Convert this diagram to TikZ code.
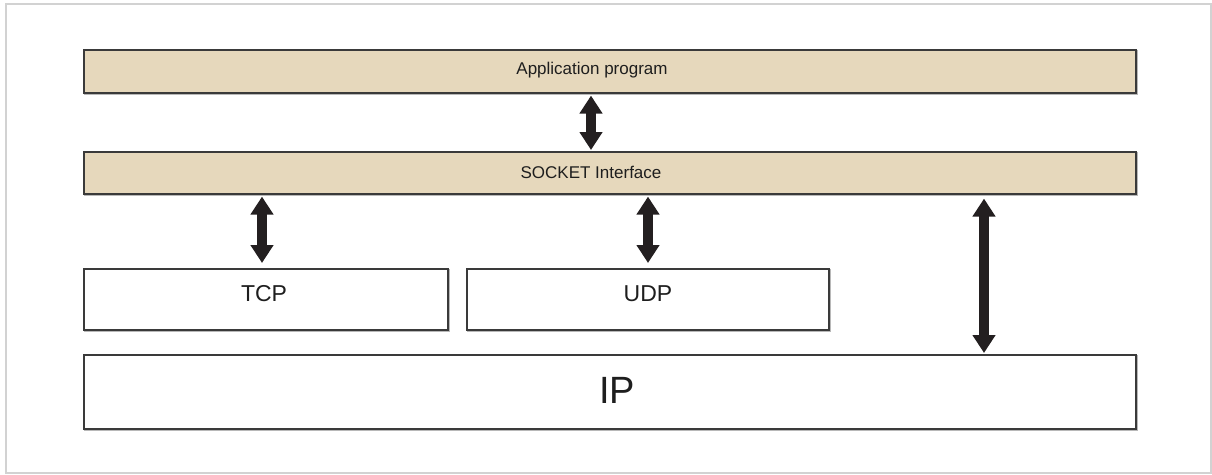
\documentclass[tikz,border=0pt]{standalone}
\usepackage{fontspec}
\setmainfont{Liberation Sans}
\usetikzlibrary{arrows.meta}
\definecolor{layerfill}{HTML}{E6D8BC}
\definecolor{edge}{HTML}{3A3A3A}
\definecolor{shade}{HTML}{B8B8B8}
\definecolor{framegray}{HTML}{D2D2D2}
\definecolor{arrowdark}{HTML}{231F20}
\definecolor{ink}{HTML}{1E1E1E}
\tikzset{
  layer/.style={draw=edge, line width=1.6pt, inner sep=0pt, anchor=north west},
  tan/.style={layer, fill=layerfill},
  plain/.style={layer, fill=white},
  small/.style={anchor=base, text=ink, font=\fontsize{17}{20}\selectfont},
  mid/.style={anchor=base, text=ink, font=\fontsize{23}{26}\selectfont},
  big/.style={anchor=base, text=ink, font=\fontsize{38}{42}\selectfont},
  dblarrow/.style={draw=arrowdark, line width=10pt,
    {Triangle[length=18pt,width=22pt]}-{Triangle[length=18pt,width=22pt]}},
  drop/.style={draw=shade, line width=1pt}
}
\begin{document}
\begin{tikzpicture}[x=1pt,y=-1pt]
  \useasboundingbox (0,0) rectangle (1212,474);
  % outer frame
  \draw[framegray, line width=2pt] (6,4) rectangle (1211,473);

  % soft drop lines under the boxes
  \foreach \l/\t/\r/\b in {83/49/1135/92, 83/151/1135/193, 83/268/447/329, 466/268/828/329, 83/354/1135/428}{
    \draw[drop] (\l+1,\b+2) -- (\r+2,\b+2) -- (\r+2,\t+1);
  }

  % layers
  \node[tan, minimum width=1052pt, minimum height=43pt] (app) at (83,49) {};
  \node[tan, minimum width=1052pt, minimum height=42pt] (sock) at (83,151) {};
  \node[plain, minimum width=364pt, minimum height=61pt] (tcp) at (83,268) {};
  \node[plain, minimum width=362pt, minimum height=61pt] (udp) at (466,268) {};
  \node[plain, minimum width=1052pt, minimum height=74pt] (ip) at (83,354) {};

  % labels
  \node[small] (apptext) at (592,74) {Application program};
  \node[small] (socktext) at (591,178) {SOCKET Interface};
  \node[mid] (tcptext) at (264,301) {TCP};
  \node[mid] (udptext) at (648,301) {UDP};
  \node[big] (iptext) at (617,403) {IP};

  % arrow columns
  \coordinate (c1) at (591,0);
  \coordinate (c2) at (262,0);
  \coordinate (c3) at (648,0);
  \coordinate (c4) at (984,0);

  % double-headed arrows between the layers
  \draw[dblarrow] ([yshift=-2pt]app.south -| c1) -- ([yshift=1pt]sock.north -| c1);
  \draw[dblarrow] ([yshift=-2pt]sock.south -| c2) -- ([yshift=5pt]tcp.north -| c2);
  \draw[dblarrow] ([yshift=-2pt]sock.south -| c3) -- ([yshift=5pt]udp.north -| c3);
  \draw[dblarrow] ([yshift=-4pt]sock.south -| c4) -- ([yshift=1pt]ip.north -| c4);
\end{tikzpicture}
\end{document}
